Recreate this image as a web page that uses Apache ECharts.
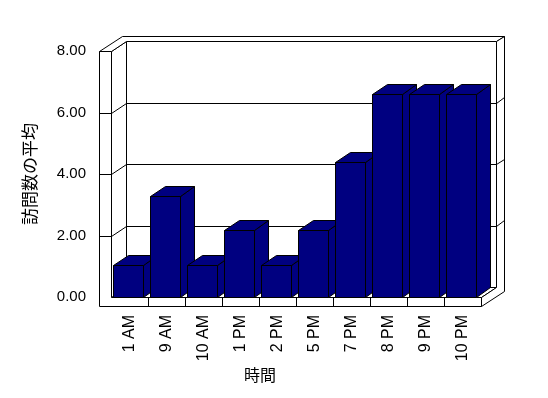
<!DOCTYPE html>
<html>
<head>
<meta charset="utf-8">
<script src="https://cdn.jsdelivr.net/npm/echarts@6/dist/echarts.min.js"></script>
<style>html,body{margin:0;padding:0;background:#fff}#c{width:548px;height:398px}</style>
</head>
<body>
<div id="c"></div>
<script>
const categories = ['1 AM', '9 AM', '10 AM', '1 PM', '2 PM', '5 PM', '7 PM', '8 PM', '9 PM', '10 PM'];
const visits = [1.05, 3.28, 1.05, 2.18, 1.05, 2.18, 4.38, 6.60, 6.60, 6.60];
const yTicks = [0, 2, 4, 6, 8];
const xTitle = '時間';
const yTitle = '訪問数の平均';

// pseudo-3D geometry (pixels)
const DX = 14.5, DY = -10;     // plot depth
const TX = 8, TY = -5.5;       // wall thickness (depth)
const WALL = 12;               // left wall thickness
const FLOOR = 9;               // floor thickness
const BAR_COLOR = '#000080';

const c = v => Math.round(v) + 0.5;
const pts = arr => arr.map(p => [c(p[0]), c(p[1])]);
const stroke = { stroke: '#000', lineWidth: 1 };

function poly(points, fill) {
  return { type: 'polygon', shape: { points: pts(points) }, style: Object.assign({ fill: fill }, stroke) };
}
function line(a, b) {
  const p = pts([a, b]);
  return { type: 'line', shape: { x1: p[0][0], y1: p[0][1], x2: p[1][0], y2: p[1][1] }, style: stroke };
}

function renderWalls(params, api) {
  const cs = params.coordSys;
  const x0 = cs.x, x1 = cs.x + cs.width, yT = cs.y, yB = cs.y + cs.height;
  const xo = x0 - WALL, yF = yB + FLOOR;
  const band = api.size([1, 0])[0];
  const ch = [];
  ch.push(poly([[x0 + DX, yT + DY], [x1 + DX, yT + DY], [x1 + DX, yB + DY], [x0 + DX, yB + DY]], '#fff'));
  ch.push(poly([[x0, yB], [x1, yB], [x1 + DX, yB + DY], [x0 + DX, yB + DY]], '#fff'));
  ch.push(poly([[x0, yT], [x0 + DX, yT + DY], [x0 + DX, yB + DY], [x0, yB]], '#fff'));
  ch.push(poly([[xo, yT], [x0, yT], [x0 + DX, yT + DY], [x1 + DX, yT + DY], [x1 + DX + TX, yT + DY + TY], [xo + DX + TX, yT + DY + TY]], '#fff'));
  ch.push(poly([[x1 + DX, yT + DY], [x1 + DX + TX, yT + DY + TY], [x1 + DX + TX, yF + DY + TY], [x1, yF], [x1, yB], [x1 + DX, yB + DY]], '#fff'));
  ch.push(poly([[xo, yT], [x0, yT], [x0, yB], [x1, yB], [x1, yF], [xo, yF]], '#fff'));
  yTicks.forEach(t => {
    if (t === 0 || t === yTicks[yTicks.length - 1]) return;
    const y = api.coord([0, t])[1];
    ch.push(line([x0 + DX, y + DY], [x1 + DX, y + DY]));
    ch.push(line([x0, y], [x0 + DX, y + DY]));
    ch.push(line([xo, y], [x0, y]));
    ch.push(line([x1 + DX, y + DY], [x1 + DX + TX, y + DY + TY]));
  });
  for (let i = 1; i < categories.length; i++) {
    const x = x0 + i * band;
    ch.push(line([x, yB], [x, yF]));
  }
  return { type: 'group', children: ch };
}

function renderBar(params, api) {
  const idx = api.value(0), v = api.value(1);
  const top = api.coord([idx, v]);
  const base = api.coord([idx, 0]);
  const band = api.size([1, 0])[0];
  const bw = band * 0.81;
  const a = top[0] - bw / 2 - 1.5, b = a + bw;
  const yv = top[1], y0 = base[1];
  return {
    type: 'group',
    children: [
      poly([[b, yv], [b + DX, yv + DY], [b + DX, y0 + DY], [b, y0]], BAR_COLOR),
      poly([[a, yv], [b, yv], [b + DX, yv + DY], [a + DX, yv + DY]], BAR_COLOR),
      poly([[a, yv], [b, yv], [b, y0], [a, y0]], BAR_COLOR)
    ]
  };
}

const chart = echarts.init(document.getElementById('c'), null, { renderer: 'canvas' });
chart.setOption({
  animation: false,
  backgroundColor: '#fff',
  grid: { left: 111, right: 67, top: 51, bottom: 101, containLabel: false },
  xAxis: {
    type: 'category',
    data: categories,
    axisLine: { show: false },
    axisTick: { show: false },
    splitLine: { show: false },
    axisLabel: { rotate: 90, margin: 18, color: '#000', fontSize: 16, fontFamily: 'Liberation Sans, Arial, sans-serif', interval: 0 }
  },
  yAxis: {
    type: 'value',
    min: 0, max: 8, interval: 2,
    name: yTitle,
    nameLocation: 'middle',
    nameGap: 73,
    nameTextStyle: { color: '#000', fontSize: 17, fontFamily: 'Noto Sans CJK JP, sans-serif' },
    axisLine: { show: false },
    axisTick: { show: false },
    splitLine: { show: false },
    axisLabel: { margin: 25, color: '#000', fontSize: 15, fontFamily: 'Liberation Sans, Arial, sans-serif', formatter: v => v.toFixed(2) }
  },
  graphic: [{
    type: 'text', left: 260 - 16, top: 367,
    style: { text: xTitle, fill: '#000', fontSize: 16, fontFamily: 'Noto Sans CJK JP, sans-serif' }
  }],
  series: [
    { type: 'custom', z: 1, clip: false, renderItem: renderWalls, data: [[0, 0]], silent: true },
    { type: 'custom', z: 2, clip: false, renderItem: renderBar, data: visits.map((v, i) => [i, v]) }
  ]
});
</script>
</body>
</html>
